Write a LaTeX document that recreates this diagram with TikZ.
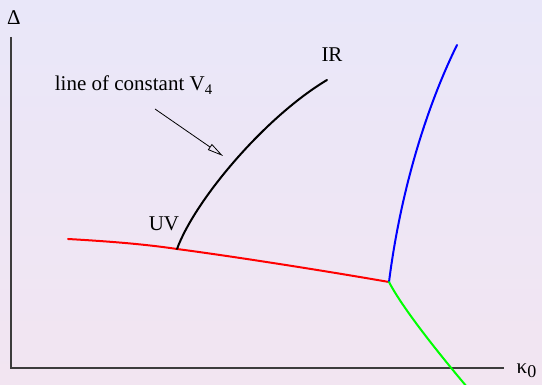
\documentclass[tikz,border=0pt]{standalone}
\usepackage{fontspec}
\setmainfont{Liberation Serif}
\usepackage{tikz}
\usetikzlibrary{
  arrows.meta,  % 空心三角箭头
  positioning   % 节点相对定位
}
\definecolor{bgtop}{RGB}{233,231,249}
\definecolor{bgbot}{RGB}{242,229,241}
\definecolor{axisgray}{RGB}{60,60,60}

\begin{document}
\begin{tikzpicture}[x=0.5pt, y=0.5pt, >=Stealth,
    every node/.style={font=\fontsize{10.5}{12}\selectfont, inner sep=0pt},
    phaseline/.style={line width=1pt, line cap=round}]
    % 画布大小
    \def\picW{542}
    \def\picH{385}

    % --- 背景渐变 ---
    \shade[top color=bgtop, bottom color=bgbot] (0, 0) rectangle (\picW, \picH);
    \useasboundingbox (0, 0) rectangle (\picW, \picH);

    % --- 坐标轴 ---
    \coordinate (O) at (11, 17);
    \coordinate (ytop) at (11, 348);
    \coordinate (xend) at (504, 17);
    \draw[axisgray, line width=0.6pt] (ytop) -- (O) -- (xend);
    \node (delta) at (14, 367) {Δ};
    \node (kappa) at (527, 14) {κ\textsubscript{\fontsize{9}{10}\selectfont 0}};

    % --- 相变线 ---
    \coordinate (uv) at (177, 136);
    \coordinate (triple) at (389, 103);
    \draw[phaseline, red] (68, 146) .. controls (120, 143) and (150, 140) .. (uv)
      .. controls (230, 129) and (320, 115) .. (triple);
    \draw[phaseline, blue] (triple) .. controls (400, 190) and (425, 275) .. (457, 340);
    \draw[phaseline, green] (triple) .. controls (402, 78) and (435, 36) .. (467, -2);

    % --- 常数 V4 线 ---
    \coordinate (ir) at (327, 305);
    \draw[phaseline, black] (uv) .. controls (195, 185) and (265, 268) .. (ir);
    \node (uvlabel) at (164, 161) {UV};
    \node (irlabel) at (332, 330) {IR};

    % 标注与箭头
    \node (vlabel) at (134, 300) {line of constant V\textsubscript{4}};
    \coordinate (arrstart) at (155, 276);
    \coordinate (arrtip) at (223, 229);
    \draw[-{Triangle[open, length=8pt, width=3.5pt]}, line width=0.4pt]
      (arrstart) -- (arrtip);

  \end{tikzpicture}
\end{document}
